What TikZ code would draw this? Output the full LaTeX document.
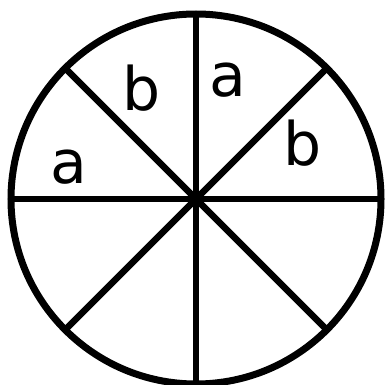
\documentclass[tikz,border=0pt]{standalone}
\usepackage{fontspec}
\setmainfont{DejaVu Sans}
\usetikzlibrary{calc}
\begin{document}
\begin{tikzpicture}[x=1pt,y=-1pt,
  rim/.style={line width=7pt},
  spoke/.style={line width=6.5pt},
  lbl/.style={font=\fontsize{60}{64}\selectfont, inner sep=0pt}]
\useasboundingbox (0,0) rectangle (384,385);
\coordinate (c) at (196,199);
\draw[rim] (c) circle[radius=185];
\foreach \ang in {0,45,90,135} {
  \draw[spoke] ($(c)+(\ang:185)$) -- ($(c)+(\ang+180:185)$);
}
\node[lbl] (a1) at (69,167) {a};
\node[lbl] (b1) at (142,88) {b};
\node[lbl] (a2) at (228,80) {a};
\node[lbl] (b2) at (303,143) {b};
\end{tikzpicture}
\end{document}
